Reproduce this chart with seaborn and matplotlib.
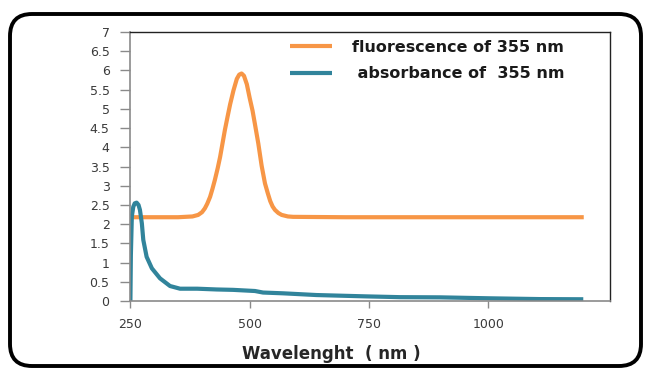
import matplotlib
matplotlib.use("Agg")
import matplotlib.pyplot as plt
from matplotlib.patches import FancyBboxPatch
import numpy as np
import pandas as pd
import seaborn as sns

# Fluorescence emission (excitation 355 nm)
fluo_wl = [250, 300, 350, 380, 392, 400, 406, 411, 417, 422, 427, 433, 438,
           443, 448, 454, 459, 466, 473, 478, 483, 488, 494, 500, 506, 511,
           518, 525, 532, 538, 543, 548, 553, 560, 567, 580, 591, 700, 900,
           1100, 1200]
fluo_val = [2.18, 2.18, 2.18, 2.20, 2.24, 2.31, 2.41, 2.53, 2.71, 2.92, 3.15,
            3.46, 3.75, 4.10, 4.45, 4.82, 5.12, 5.48, 5.78, 5.89, 5.92, 5.86,
            5.64, 5.28, 4.95, 4.60, 4.10, 3.52, 3.06, 2.80, 2.60, 2.46, 2.37,
            2.29, 2.24, 2.20, 2.19, 2.18, 2.18, 2.18, 2.18]

# Absorbance spectrum
abs_wl = [250, 251, 253, 256, 259, 263, 267, 270, 274, 277, 284, 295, 312,
          333, 354, 390, 431, 465, 511, 528, 570, 640, 745, 815, 899, 1003,
          1108, 1199]
abs_val = [0.0, 1.2, 2.2, 2.45, 2.54, 2.56, 2.5, 2.37, 2.02, 1.59, 1.15, 0.85,
           0.59, 0.39, 0.32, 0.32, 0.30, 0.29, 0.26, 0.22, 0.20, 0.155, 0.12,
           0.10, 0.095, 0.07, 0.05, 0.045]

series_names = ["fluorescence of 355 nm", " absorbance of  355 nm"]
series_colors = ["#F79646", "#31849B"]

x_ticks = [250, 500, 750, 1000]
y_ticks = np.arange(0, 7.01, 0.5)

df = pd.concat([
    pd.DataFrame({"wl": fluo_wl, "val": fluo_val, "series": series_names[0]}),
    pd.DataFrame({"wl": abs_wl, "val": abs_val, "series": series_names[1]}),
], ignore_index=True)

sns.set_style("white")
plt.rcParams["font.family"] = ["DejaVu Sans"]

fig = plt.figure(figsize=(6.46, 3.69), dpi=100)
ax = fig.add_axes([130.4 / 646, 1 - 301 / 369, (610 - 130.4) / 646, (301 - 32) / 369])

sns.lineplot(data=df, x="wl", y="val", hue="series", hue_order=series_names,
             palette=dict(zip(series_names, series_colors)), estimator=None,
             sort=True, linewidth=3.0, ax=ax, legend=True)
for line in ax.get_lines():
    line.set_solid_joinstyle("round")
    line.set_solid_capstyle("butt")

ax.set_xlim(250, 1255)
ax.set_ylim(0, 7)
ax.set_xticks(x_ticks)
ax.set_xticklabels([str(t) for t in x_ticks])
ax.set_yticks(y_ticks)
ax.set_yticklabels([f"{t:g}" for t in y_ticks])

tick_col = "#3a3a3a"
ax.tick_params(axis="both", direction="out", length=5, width=1.0,
               color="#8a8a8a", labelsize=9, labelcolor=tick_col, pad=7,
               left=True, bottom=True)
ax.tick_params(axis="y", length=7, pad=8)

for side in ("left", "bottom"):
    ax.spines[side].set_color("#8a8a8a")
    ax.spines[side].set_linewidth(1.2)
for side in ("top", "right"):
    ax.spines[side].set_color("#222222")
    ax.spines[side].set_linewidth(1.0)

ax.set_xlabel("Wavelenght  ( nm )", fontsize=12, fontweight="bold",
              color="#262626")
ax.xaxis.set_label_coords((331 - 130.4) / 479.6, -0.163)
ax.set_ylabel("")

handles, labels = ax.get_legend_handles_labels()
leg = ax.legend(handles, labels, loc="upper left",
                bbox_to_anchor=(290 / 646, 1 - 40 / 369),
                bbox_transform=fig.transFigure, frameon=False,
                prop={"size": 11.5, "weight": "bold"},
                handlelength=2.6, handletextpad=1.3,
                labelspacing=0.7, borderpad=0, borderaxespad=0)
for t in leg.get_texts():
    t.set_color("#1a1a1a")
for h in leg.get_lines():
    h.set_linewidth(3.0)

# Rounded chart-area border
frame = FancyBboxPatch((0.10, 0.03), 6.31, 3.52,
                       boxstyle="round,pad=0,rounding_size=0.22",
                       transform=fig.dpi_scale_trans, fill=False,
                       edgecolor="black", linewidth=2.8, clip_on=False)
fig.patches.append(frame)

fig.savefig("out.png", dpi=100)
